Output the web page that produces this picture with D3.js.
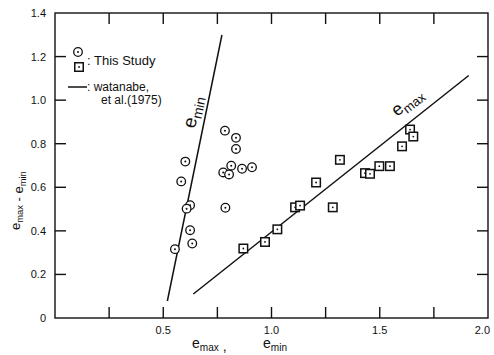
<!DOCTYPE html>
<html>
<head>
<meta charset="utf-8">
<script src="https://cdn.jsdelivr.net/npm/d3@7"></script>
<style>
  html, body { margin: 0; padding: 0; background: #fff; }
  svg { display: block; font-family: "Liberation Sans", Arial, sans-serif; }
</style>
</head>
<body>
<svg id="chart" width="494" height="355"></svg>
<script>
// e_min vs (e_max - e_min), this study
const eMinX = [0.785, 0.836, 0.836, 0.602, 0.814, 0.864, 0.910, 0.777, 0.804, 0.583, 0.624, 0.608, 0.787, 0.624, 0.634, 0.554];
const eMinY = [0.860, 0.827, 0.776, 0.718, 0.699, 0.685, 0.692, 0.668, 0.659, 0.627, 0.518, 0.502, 0.506, 0.403, 0.342, 0.316];

// e_max vs (e_max - e_min), this study
const eMaxX = [0.870, 0.970, 1.027, 1.109, 1.132, 1.206, 1.283, 1.432, 1.455, 1.316, 1.498, 1.547, 1.603, 1.640, 1.655];
const eMaxY = [0.319, 0.349, 0.407, 0.508, 0.516, 0.622, 0.508, 0.665, 0.662, 0.726, 0.697, 0.697, 0.788, 0.865, 0.833];

// Watanabe et al. (1975) relations, given by their end points
const watanabeMinLine = [[0.519, 0.078], [0.771, 1.299]];
const watanabeMaxLine = [[0.639, 0.110], [1.911, 1.113]];

const xTicks = [0.25, 0.5, 0.75, 1.0, 1.25, 1.5, 1.75];
const xTickLabels = [0.5, 1.0, 1.5, 2.0];
const yTicks = [0.2, 0.4, 0.6, 0.8, 1.0, 1.2];
const yTickLabels = [0, 0.2, 0.4, 0.6, 0.8, 1.0, 1.2, 1.4];

const svg = d3.select("#chart");
const L = 55, R = 488, T = 13, B = 318;
const x = d3.scaleLinear().domain([0, 2]).range([L, R]);
const y = d3.scaleLinear().domain([0, 1.4]).range([B, T]);
const ink = "#111";
const tickLen = 11;

// frame
svg.append("rect").attr("x", L).attr("y", T).attr("width", R - L).attr("height", B - T)
  .attr("fill", "none").attr("stroke", ink).attr("stroke-width", 1.4);

// inward ticks on all four sides
const g = svg.append("g").attr("stroke", ink).attr("stroke-width", 1.4);
xTicks.forEach(v => {
  g.append("line").attr("x1", x(v)).attr("x2", x(v)).attr("y1", B).attr("y2", B - tickLen);
  g.append("line").attr("x1", x(v)).attr("x2", x(v)).attr("y1", T).attr("y2", T + tickLen);
});
yTicks.forEach(v => {
  g.append("line").attr("x1", L).attr("x2", L + tickLen).attr("y1", y(v)).attr("y2", y(v));
  g.append("line").attr("x1", R).attr("x2", R - tickLen).attr("y1", y(v)).attr("y2", y(v));
});

// tick labels (the last one sits against the right edge)
const fmt = v => v === 0 ? "0" : d3.format(".1f")(v);
const xMax = x.domain()[1];
svg.append("g").selectAll("text").data(xTickLabels).join("text")
  .attr("x", d => d === xMax ? x(d) + 2 : x(d))
  .attr("y", B + 16)
  .attr("text-anchor", d => d === xMax ? "end" : "middle")
  .attr("font-size", 11).attr("fill", ink).text(fmt);
svg.append("g").selectAll("text").data(yTickLabels).join("text")
  .attr("x", L - 9).attr("y", d => y(d) + 4).attr("text-anchor", "end")
  .attr("font-size", 11).attr("fill", ink).text(fmt);

// Watanabe lines
const line = d3.line().x(d => x(d[0])).y(d => y(d[1]));
[watanabeMinLine, watanabeMaxLine].forEach(pts => {
  svg.append("path").attr("d", line(pts)).attr("fill", "none")
    .attr("stroke", ink).attr("stroke-width", 1.5);
});

// circle markers (e_min)
const circ = svg.append("g");
eMinX.forEach((vx, i) => {
  circ.append("circle").attr("cx", x(vx)).attr("cy", y(eMinY[i])).attr("r", 4.3)
    .attr("fill", "#fff").attr("stroke", ink).attr("stroke-width", 1.3);
  circ.append("circle").attr("cx", x(vx)).attr("cy", y(eMinY[i])).attr("r", 1).attr("fill", ink);
});

// square markers (e_max)
const sq = svg.append("g");
const s = 8.5;
eMaxX.forEach((vx, i) => {
  sq.append("rect").attr("x", x(vx) - s / 2).attr("y", y(eMaxY[i]) - s / 2)
    .attr("width", s).attr("height", s)
    .attr("fill", "#fff").attr("stroke", ink).attr("stroke-width", 1.5);
  sq.append("circle").attr("cx", x(vx)).attr("cy", y(eMaxY[i])).attr("r", 0.9).attr("fill", ink);
});

// helper: "e" with a subscript
function eSub(sel, sub, size) {
  sel.append("tspan").attr("font-size", size).text("e");
  sel.append("tspan").attr("font-size", size * 0.72).attr("dy", size * 0.22).text(sub);
  sel.append("tspan").attr("font-size", size).attr("dy", -size * 0.22).text("");
}

// line labels
const tMin = svg.append("text").attr("transform", "translate(195,129) rotate(-78)").attr("fill", ink);
eSub(tMin, "min", 19);
const tMax = svg.append("text").attr("transform", "translate(397,117) rotate(-38)").attr("fill", ink);
eSub(tMax, "max", 18);

// legend
svg.append("circle").attr("cx", 78).attr("cy", 52).attr("r", 4.3)
  .attr("fill", "#fff").attr("stroke", ink).attr("stroke-width", 1.3);
svg.append("circle").attr("cx", 78).attr("cy", 52).attr("r", 1).attr("fill", ink);
svg.append("rect").attr("x", 79 - s / 2).attr("y", 67 - s / 2).attr("width", s).attr("height", s)
  .attr("fill", "#fff").attr("stroke", ink).attr("stroke-width", 1.5);
svg.append("circle").attr("cx", 79).attr("cy", 67).attr("r", 0.9).attr("fill", ink);
svg.append("text").attr("x", 87).attr("y", 65).attr("font-size", 13).attr("fill", ink).text(": This Study");
svg.append("line").attr("x1", 68).attr("x2", 87).attr("y1", 87).attr("y2", 87)
  .attr("stroke", ink).attr("stroke-width", 1.5);
svg.append("text").attr("x", 87).attr("y", 91).attr("font-size", 12).attr("fill", ink).text(": watanabe,");
svg.append("text").attr("x", 101).attr("y", 104).attr("font-size", 12).attr("fill", ink).text("et al.(1975)");

// x-axis title
const xt = svg.append("text").attr("x", 192).attr("y", 348).attr("fill", ink);
eSub(xt, "max", 14);
xt.append("tspan").attr("font-size", 14).text(" ,");
const xt2 = svg.append("text").attr("x", 263).attr("y", 348).attr("fill", ink);
eSub(xt2, "min", 14);

// y-axis title
const yt = svg.append("text").attr("transform", "translate(20,230) rotate(-90)").attr("fill", ink);
eSub(yt, "max", 13);
yt.append("tspan").attr("font-size", 13).text(" - ");
eSub(yt, "min", 13);
</script>
</body>
</html>
